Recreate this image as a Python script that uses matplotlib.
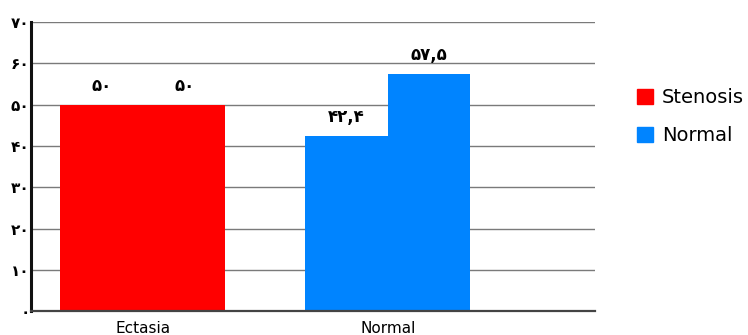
import matplotlib.pyplot as plt
import numpy as np
from matplotlib.patches import Patch

categories = ["Ectasia", "Normal"]
series = ["Stenosis", "Normal"]
stenosis = [50, 42.4]
normal = [50, 57.5]
value_labels = [["۵۰", "۴۲,۴"], ["۵۰", "۵۷,۵"]]
yticks = [0, 10, 20, 30, 40, 50, 60, 70]
ytick_labels = ["۰", "۱۰", "۲۰", "۳۰", "۴۰", "۵۰", "۶۰", "۷۰"]

red = "#ff0000"
blue = "#0084ff"
# the source colours bars by group, not by series
group_colors = [red, blue]

fig = plt.figure(figsize=(7.48, 3.35), dpi=100)
ax = fig.add_axes([0.0414, 0.0716, 0.754, 0.862])

x = np.arange(len(categories))
w = 0.337
for i, vals in enumerate([stenosis, normal]):
    pos = x + (i - 0.5) * w
    bars = ax.bar(pos, vals, width=w, color=group_colors, zorder=2)
    for b, lab in zip(bars, value_labels[i]):
        ax.annotate(lab, (b.get_x() + b.get_width() / 2, b.get_height()),
                    xytext=(0, 7), textcoords="offset points",
                    ha="center", va="bottom", fontsize=12, fontweight="bold",
                    family="DejaVu Sans")

ax.set_ylim(0, 70)
ax.set_xlim(-0.457, 1.845)
ax.set_yticks(yticks)
ax.set_yticklabels(ytick_labels, fontsize=11, fontweight="bold")
ax.set_xticks(x)
ax.set_xticklabels(categories, fontsize=11, family="DejaVu Sans")
ax.yaxis.grid(True, color="#7a7a7a", linewidth=1.0, zorder=0)
ax.tick_params(axis="y", length=0, pad=1)
ax.tick_params(axis="x", length=0, pad=7)
for s in ["top", "right"]:
    ax.spines[s].set_visible(False)
ax.spines["left"].set_linewidth(2.2)
ax.spines["left"].set_color("#111111")
ax.spines["bottom"].set_linewidth(1.6)
ax.spines["bottom"].set_color("#444444")
for s in ["left", "bottom"]:
    ax.spines[s].set_zorder(3)

handles = [Patch(color=red), Patch(color=blue)]
fig.legend(handles, series, loc="center left", bbox_to_anchor=(0.8516, 0.652),
           frameon=False, fontsize=14, handlelength=0.82, handleheight=0.82,
           handletextpad=0.45, labelspacing=0.95, borderpad=0, borderaxespad=0)

fig.savefig("out.png", dpi=100)
